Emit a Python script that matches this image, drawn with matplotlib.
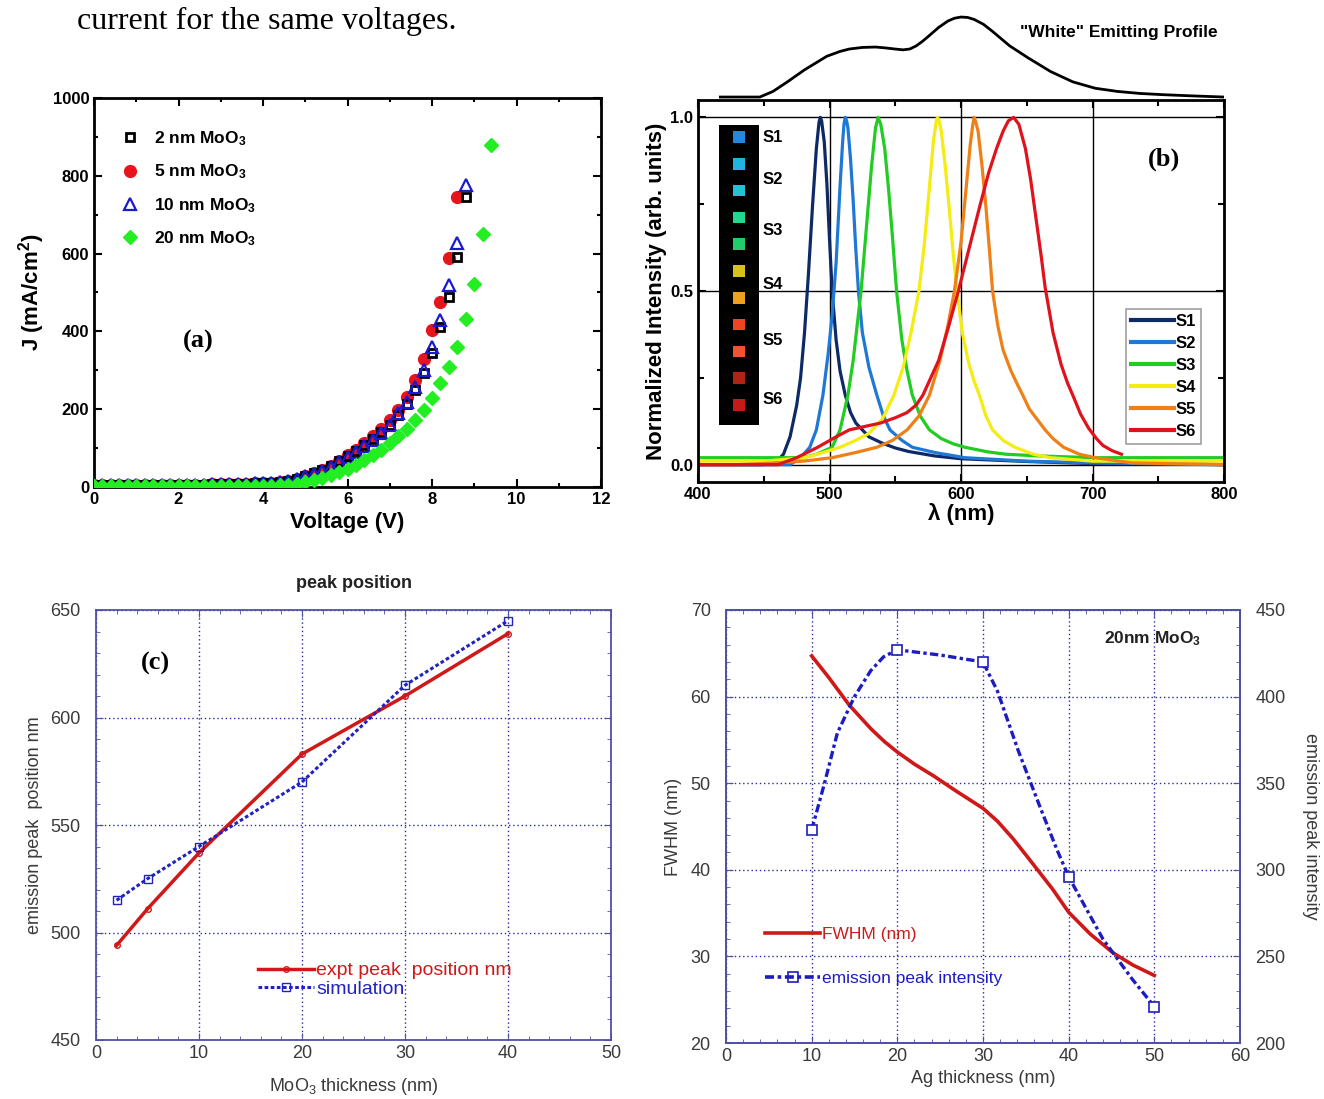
import matplotlib
matplotlib.use("Agg")
import matplotlib.pyplot as plt
from matplotlib.ticker import MultipleLocator

plt.rcParams["font.family"] = ["Liberation Sans", "DejaVu Sans"]
plt.rcParams["mathtext.default"] = "regular"

# ---------------------------------------------------------
# (a) J-V curves
# ---------------------------------------------------------
voltage = [0.0, 0.2, 0.4, 0.6, 0.8, 1.0, 1.2, 1.4, 1.6, 1.8, 2.0, 2.2, 2.4, 2.6,
           2.8, 3.0, 3.2, 3.4, 3.6, 3.8, 4.0, 4.2, 4.4, 4.6, 4.8, 5.0, 5.2, 5.4,
           5.6, 5.8, 6.0, 6.2, 6.4, 6.6, 6.8, 7.0, 7.2, 7.4, 7.6, 7.8, 8.0, 8.2,
           8.4, 8.6, 8.8, 9.0, 9.2, 9.4]

j_2nm = [5, 5, 5, 5, 5, 5, 5, 5, 6, 6, 6, 6, 6, 6, 7, 7, 7, 8, 8, 9, 10, 11, 13,
         16, 21, 28, 35, 43, 53, 66, 80, 93, 108, 124, 141, 160, 184, 214, 250,
         293, 344, 412, 489, 590, 746]
j_5nm = [5, 5, 5, 5, 5, 5, 5, 5, 6, 6, 6, 6, 6, 6, 7, 7, 7, 8, 8, 9, 10, 11, 13,
         16, 21, 28, 35, 44, 55, 68, 82, 96, 112, 130, 150, 172, 198, 232, 275,
         328, 404, 476, 588, 746]
j_10nm = [5, 5, 5, 5, 5, 5, 5, 5, 6, 6, 6, 6, 6, 6, 7, 7, 7, 8, 8, 9, 10, 11, 13,
          16, 21, 27, 34, 42, 52, 64, 77, 90, 105, 122, 140, 160, 189, 219, 258,
          301, 361, 429, 519, 626, 776]
j_20nm = [2, 2, 2, 2, 2, 2, 2, 2, 2, 2, 2, 2, 2, 2, 2, 2, 2, 2, 3, 3, 3, 3, 4,
          5, 8, 12, 17, 23, 30, 38, 47, 57, 69, 82, 96, 112, 130, 150, 172, 198,
          230, 267, 309, 361, 431, 521, 650, 879]

# ---------------------------------------------------------
# (b) normalized EL spectra S1..S6 and white profile
# ---------------------------------------------------------
s1_wl = [400, 450, 460, 465, 470, 475, 478, 481, 484, 487, 490, 492, 493, 494,
         496, 498, 500, 502, 505, 508, 512, 516, 520, 525, 530, 540, 550, 560,
         580, 600, 650, 700, 800]
s1_int = [0.0, 0.0, 0.01, 0.03, 0.08, 0.17, 0.25, 0.38, 0.55, 0.74, 0.91, 0.985,
          1.0, 0.99, 0.93, 0.81, 0.65, 0.5, 0.36, 0.27, 0.2, 0.15, 0.12, 0.1,
          0.08, 0.062, 0.048, 0.038, 0.025, 0.017, 0.009, 0.003, 0.0]

s2_wl = [400, 470, 478, 485, 490, 495, 499, 502, 505, 508, 510, 511, 512, 513,
         514, 516, 518, 520, 522, 525, 530, 536, 541, 546, 555, 563, 580, 603,
         650, 700, 800]
s2_int = [0.0, 0.0, 0.02, 0.05, 0.1, 0.2, 0.32, 0.43, 0.58, 0.8, 0.93, 0.98, 1.0,
          0.99, 0.97, 0.88, 0.76, 0.62, 0.5, 0.38, 0.28, 0.2, 0.14, 0.1, 0.07,
          0.05, 0.035, 0.02, 0.01, 0.005, 0.0]

s3_wl = [400, 480, 490, 502, 508, 514, 518, 521, 524, 528, 532, 535, 537, 539,
         542, 545, 548, 551, 555, 559, 563, 569, 576, 585, 594, 603, 620, 634,
         660, 700, 800]
s3_int = [0.02, 0.02, 0.03, 0.05, 0.1, 0.2, 0.3, 0.4, 0.5, 0.68, 0.86, 0.97, 1.0,
          0.98, 0.91, 0.79, 0.65, 0.5, 0.36, 0.27, 0.2, 0.14, 0.1, 0.075, 0.06,
          0.05, 0.037, 0.03, 0.025, 0.02, 0.02]

s4_wl = [400, 450, 481, 495, 508, 520, 530, 540, 549, 556, 562, 568, 572, 576,
         579, 581, 582, 583, 585, 588, 591, 594, 597, 601, 606, 610, 614, 619,
         624, 632, 641, 655, 668, 700, 800]
s4_int = [0.01, 0.01, 0.02, 0.035, 0.05, 0.07, 0.09, 0.13, 0.2, 0.28, 0.38, 0.5,
          0.63, 0.8, 0.93, 0.985, 1.0, 0.995, 0.96, 0.86, 0.74, 0.61, 0.5, 0.38,
          0.29, 0.24, 0.2, 0.14, 0.1, 0.07, 0.05, 0.03, 0.02, 0.01, 0.01]

s5_wl = [400, 430, 460, 480, 502, 520, 536, 548, 559, 568, 576, 584, 590, 595,
         600, 604, 607, 609, 610, 611, 613, 616, 619, 622, 624, 628, 632, 638,
         643, 647, 652, 658, 664, 670, 678, 690, 702, 730, 800]
s5_int = [0.0, 0.0, 0.005, 0.01, 0.02, 0.035, 0.05, 0.07, 0.1, 0.14, 0.2, 0.3,
          0.4, 0.5, 0.64, 0.8, 0.92, 0.98, 1.0, 0.99, 0.96, 0.86, 0.74, 0.6, 0.5,
          0.4, 0.33, 0.27, 0.23, 0.2, 0.16, 0.13, 0.1, 0.075, 0.05, 0.03, 0.02,
          0.005, 0.0]

s6_wl = [400, 461, 475, 491, 505, 515, 527, 539, 550, 559, 566, 571, 577, 583,
         590, 598, 606, 614, 621, 627, 632, 636, 640, 644, 649, 653, 657, 661,
         664, 670, 676, 681, 685, 691, 697, 703, 708, 715, 722]
s6_int = [0.0, 0.0, 0.02, 0.05, 0.08, 0.1, 0.11, 0.12, 0.135, 0.15, 0.172, 0.2,
          0.25, 0.3, 0.39, 0.5, 0.62, 0.74, 0.84, 0.91, 0.96, 0.99, 1.0, 0.98,
          0.91, 0.82, 0.71, 0.6, 0.51, 0.38, 0.29, 0.235, 0.2, 0.145, 0.105,
          0.075, 0.055, 0.04, 0.03]

white_wl = [417, 427, 447, 457, 468, 481, 498, 508, 515, 525, 535, 542, 550, 556,
            561, 566, 571, 576, 583, 590, 595, 600, 605, 610, 617, 624, 637, 651,
            668, 685, 702, 719, 736, 753, 775, 800]
white_int = [0.0, 0.0, 0.0, 0.07, 0.19, 0.34, 0.51, 0.57, 0.60, 0.62, 0.625, 0.615,
             0.60, 0.59, 0.60, 0.64, 0.70, 0.77, 0.87, 0.95, 0.985, 1.0, 0.995,
             0.97, 0.91, 0.82, 0.64, 0.49, 0.32, 0.19, 0.11, 0.07, 0.045, 0.03,
             0.015, 0.0]

spectra_labels = ["S1", "S2", "S3", "S4", "S5", "S6"]
spectra_colors = ["#0e2a66", "#1f78d6", "#22cc22", "#f4ec12", "#ef8018", "#e0121c"]
swatch_colors = ["#2088e0", "#22b4e0", "#22c2d2", "#22d890", "#22cc6a", "#d8c020",
                 "#f0a020", "#f04422", "#f05232", "#b02418", "#c41a1a"]

# ---------------------------------------------------------
# (c) emission peak position vs MoO3 thickness
# ---------------------------------------------------------
moo3_thick = [2, 5, 10, 20, 30, 40]
peak_expt = [494, 511, 537, 583, 610, 639]
peak_sim = [515, 525, 540, 570, 615, 645]

# ---------------------------------------------------------
# (d) FWHM and peak intensity vs Ag thickness
# ---------------------------------------------------------
fwhm_x = [10, 12, 14.4, 16.9, 18.5, 20, 22, 24.3, 26.7, 30, 31.7, 33.5, 35.1,
          38.1, 40, 42.5, 45.2, 47.5, 50]
fwhm_y = [64.7, 62.2, 59.0, 56.3, 54.8, 53.6, 52.2, 50.8, 49.2, 47.1, 45.6, 43.6,
          41.6, 37.8, 35.1, 32.6, 30.4, 29.0, 27.8]
ag_thick = [10, 20, 30, 40, 50]
peak_intensity = [323, 427, 420, 296, 221]
inten_x = [10, 11.5, 13, 15, 16.9, 18.4, 20, 25, 30, 31.7, 34.1, 36.6, 38.6, 40,
           44, 47.4, 50]
inten_y = [323, 350, 379, 400, 415, 423, 427, 424, 420, 403, 369, 337, 312, 296,
           260, 237, 221]

W, H = 1324, 1099


def px_axes(left, top, right, bottom):
    return [left / W, 1 - bottom / H, (right - left) / W, (bottom - top) / H]


fig = plt.figure(figsize=(W / 100, H / 100), dpi=100)
fig.text(77 / W, 1 - 21 / H, "current for the same voltages.", fontsize=23,
         family=["Liberation Serif", "DejaVu Serif"], va="center", ha="left")

# ---- panel (a)
ax_a = fig.add_axes(px_axes(94, 98, 601, 487))
ax_a.plot(voltage[:len(j_5nm)], j_5nm, "o", color="#e8141c", ms=8.5, mec="#e8141c",
          label="5 nm MoO$_3$", zorder=2)
ax_a.plot(voltage[:len(j_2nm)], j_2nm, "s", color="black", ms=6, mfc="none",
          mew=2, label="2 nm MoO$_3$", zorder=3)
ax_a.plot(voltage[:len(j_10nm)], j_10nm, "^", color="#1a1ad0", ms=8.5, mfc="none",
          mew=1.6, label="10 nm MoO$_3$", zorder=4)
ax_a.plot(voltage[:len(j_20nm)], j_20nm, "D", color="#22ee22", ms=7, mec="#22ee22",
          label="20 nm MoO$_3$", zorder=5)
ax_a.set_xlim(0, 12)
ax_a.set_ylim(0, 1000)
ax_a.xaxis.set_major_locator(MultipleLocator(2))
ax_a.xaxis.set_minor_locator(MultipleLocator(1))
ax_a.yaxis.set_major_locator(MultipleLocator(200))
ax_a.yaxis.set_minor_locator(MultipleLocator(100))
ax_a.tick_params(which="both", direction="in", top=True, right=True, width=1.5,
                 labelsize=12)
ax_a.tick_params(which="major", length=6)
ax_a.tick_params(which="minor", length=3)
for lab in ax_a.get_xticklabels() + ax_a.get_yticklabels():
    lab.set_fontweight("bold")
for sp in ax_a.spines.values():
    sp.set_linewidth(2)
ax_a.set_xlabel("Voltage (V)", fontsize=16, fontweight="bold", labelpad=4)
ax_a.set_ylabel("J (mA/cm$^2$)", fontsize=16, fontweight="bold", labelpad=4)
h, l = ax_a.get_legend_handles_labels()
order = [1, 0, 2, 3]
ax_a.legend([h[i] for i in order], [l[i] for i in order], loc="upper left",
            bbox_to_anchor=(0.005, 0.96), frameon=False, handletextpad=0.4,
            labelspacing=0.85, prop={"weight": "bold", "size": 12.5})
ax_a.text(0.205, 0.375, "(a)", transform=ax_a.transAxes, fontsize=19,
          fontweight="bold", family=["Liberation Serif", "DejaVu Serif"],
          ha="center", va="center")

# ---- panel (b)
ax_b = fig.add_axes(px_axes(698, 100, 1224, 482))
spectra = [(s1_wl, s1_int), (s2_wl, s2_int), (s3_wl, s3_int),
           (s4_wl, s4_int), (s5_wl, s5_int), (s6_wl, s6_int)]
for (wl, inten), name, col in zip(spectra, spectra_labels, spectra_colors):
    ax_b.plot(wl, inten, color=col, lw=2.3, label=name, solid_joinstyle="round")
ax_b.set_xlim(400, 800)
ax_b.set_ylim(-0.05, 1.05)
ax_b.xaxis.set_major_locator(MultipleLocator(100))
ax_b.xaxis.set_minor_locator(MultipleLocator(50))
ax_b.yaxis.set_major_locator(MultipleLocator(0.5))
ax_b.yaxis.set_minor_locator(MultipleLocator(0.25))
ax_b.yaxis.set_major_formatter(lambda v, p: f"{v:.1f}")
ax_b.grid(True, which="major", color="black", lw=1)
ax_b.tick_params(which="both", direction="in", top=True, right=True, width=1.5,
                 labelsize=12)
ax_b.tick_params(which="major", length=6)
ax_b.tick_params(which="minor", length=4)
for lab in ax_b.get_xticklabels() + ax_b.get_yticklabels():
    lab.set_fontweight("bold")
for sp in ax_b.spines.values():
    sp.set_linewidth(2)
ax_b.set_xlabel("λ (nm)", fontsize=16, fontweight="bold", labelpad=1)
ax_b.set_ylabel("Normalized Intensity (arb. units)", fontsize=16,
                fontweight="bold", labelpad=2)
leg_b = ax_b.legend(loc="lower right", bbox_to_anchor=(0.957, 0.10),
                    handlelength=2.6, handletextpad=0.1, labelspacing=0.42,
                    borderpad=0.3, borderaxespad=0, fancybox=False,
                    prop={"weight": "bold", "size": 12})
leg_b.get_frame().set_edgecolor("#888888")
leg_b.get_frame().set_linewidth(1.2)
for line in leg_b.get_lines():
    line.set_linewidth(3)
ax_b.text(0.885, 0.845, "(b)", transform=ax_b.transAxes, fontsize=19,
          fontweight="bold", family=["Liberation Serif", "DejaVu Serif"],
          ha="center", va="center")

# device photo swatches
ax_sw = fig.add_axes(px_axes(719, 125, 759, 425))
ax_sw.set_facecolor("black")
ax_sw.scatter([0.5] * len(swatch_colors), range(len(swatch_colors)), marker="s",
              s=70, c=swatch_colors, edgecolors="none")
ax_sw.set_xlim(0, 1)
ax_sw.set_ylim(10.75, -0.45)
ax_sw.set_xticks([])
ax_sw.set_yticks([])
for sp in ax_sw.spines.values():
    sp.set_visible(False)
for name, pos in zip(spectra_labels, [0, 1.6, 3.5, 5.5, 7.6, 9.8]):
    ax_sw.text(1.08, pos, name, transform=ax_sw.get_yaxis_transform(),
               fontsize=12, fontweight="bold", va="center", ha="left")

# white emission profile above panel (b)
ax_w = fig.add_axes(px_axes(698, 10, 1224, 100))
ax_w.plot(white_wl, white_int, color="black", lw=2, solid_joinstyle="round")
ax_w.set_xlim(400, 800)
ax_w.set_ylim(-0.037, 1.088)
ax_w.axis("off")
fig.text(1119 / W, 1 - 32 / H, "\"White\" Emitting Profile", fontsize=12.5,
         fontweight="bold", ha="center", va="center")

# ---- panel (c)
frame_col = "#5050a8"
grid_col = "#2a2aa0"
text_col = "#3a3a3a"

ax_c = fig.add_axes(px_axes(96, 610, 611, 1040))
ax_c.plot(moo3_thick, peak_expt, "-o", color="#d01818", lw=2.5, ms=4,
          mfc="none", mew=1, label="expt peak  position nm")
ax_c.plot(moo3_thick, peak_sim, ls=(0, (1.2, 0.8)), marker="s", color="#2222c0",
          lw=2.2, ms=6, mfc="none", mew=1, label="simulation")
ax_c.set_xlim(0, 50)
ax_c.set_ylim(450, 650)
ax_c.xaxis.set_major_locator(MultipleLocator(10))
ax_c.xaxis.set_minor_locator(MultipleLocator(2))
ax_c.yaxis.set_major_locator(MultipleLocator(50))
ax_c.yaxis.set_minor_locator(MultipleLocator(10))
ax_c.grid(True, which="major", color=grid_col, ls=(0, (1, 2)), lw=1)
ax_c.tick_params(which="both", direction="in", top=True, right=True,
                 color=frame_col, labelsize=13, labelcolor=text_col)
ax_c.tick_params(axis="y", pad=11)
ax_c.tick_params(which="major", length=5)
ax_c.tick_params(which="minor", length=3)
for sp in ax_c.spines.values():
    sp.set_color(frame_col)
    sp.set_linewidth(1.3)
ax_c.set_xlabel("MoO$_3$ thickness (nm)", fontsize=13, color=text_col, labelpad=10)
ax_c.set_ylabel("emission peak  position nm", fontsize=13, color=text_col,
                labelpad=5)
ax_c.set_title("peak position", fontsize=13, fontweight="bold", color="#222222",
               pad=16)
ax_c.legend(loc="center left", bbox_to_anchor=(0.28, 0.14), frameon=False,
            handlelength=2.9, handletextpad=0.1, labelspacing=0.05,
            labelcolor="linecolor", fontsize=14)
ax_c.text(0.115, 0.875, "(c)", transform=ax_c.transAxes, fontsize=19,
          fontweight="bold", family=["Liberation Serif", "DejaVu Serif"],
          ha="center", va="center")

# ---- panel (d)
ax_d = fig.add_axes(px_axes(726, 610, 1240, 1043))
ax_d2 = ax_d.twinx()
fwhm_line, = ax_d.plot(fwhm_x, fwhm_y, color="#d01818", lw=2.6, zorder=3,
                       solid_joinstyle="round")
ax_d2.plot(inten_x, inten_y, color="#1c1cc0", lw=2.4, ls=(0, (2.5, 1, 1, 1)))
ax_d2.plot(ag_thick, peak_intensity, "s", color="#1c1cc0", ms=7, mfc="white",
           mew=1.2)
inten_handle, = ax_d.plot([], [], color="#1c1cc0", lw=2.6, ls=(0, (2.5, 1, 1, 1)),
                          marker="s", ms=7, mfc="none", mew=1.2)
ax_d.set_xlim(0, 60)
ax_d.set_ylim(20, 70)
ax_d2.set_ylim(200, 450)
ax_d.xaxis.set_major_locator(MultipleLocator(10))
ax_d.xaxis.set_minor_locator(MultipleLocator(2))
ax_d.yaxis.set_major_locator(MultipleLocator(10))
ax_d.yaxis.set_minor_locator(MultipleLocator(2))
ax_d2.yaxis.set_major_locator(MultipleLocator(50))
ax_d2.yaxis.set_minor_locator(MultipleLocator(10))
ax_d.grid(True, which="major", color=grid_col, ls=(0, (1, 2)), lw=1)
ax_d.tick_params(which="both", direction="in", top=True, color=frame_col,
                 labelsize=13, labelcolor=text_col)
ax_d.tick_params(axis="y", pad=11)
ax_d2.tick_params(which="both", direction="in", color=frame_col, labelsize=13,
                  labelcolor=text_col, pad=11)
for a in (ax_d, ax_d2):
    a.tick_params(which="major", length=5)
    a.tick_params(which="minor", length=3)
    for sp in a.spines.values():
        sp.set_color(frame_col)
        sp.set_linewidth(1.3)
ax_d.set_xlabel("Ag thickness (nm)", fontsize=13, color=text_col, labelpad=4)
ax_d.set_ylabel("FWHM (nm)", fontsize=13, color=text_col, labelpad=6)
ax_d2.set_ylabel("emission peak intensity", fontsize=13, color=text_col,
                 rotation=270, labelpad=24)
ax_d.legend([fwhm_line, inten_handle], ["FWHM (nm)", "emission peak intensity"],
            loc="center left", bbox_to_anchor=(0.045, 0.2), frameon=False,
            handlelength=3.2, handletextpad=0.1, labelspacing=1.7,
            labelcolor=["#d01818", "#1c1cc0"], fontsize=12.5)
ax_d.text(0.925, 0.955, "20nm MoO$_3$", transform=ax_d.transAxes, fontsize=12.5,
          fontweight="bold", color="#222222", ha="right", va="top")

fig.savefig("out.png", dpi=100)
